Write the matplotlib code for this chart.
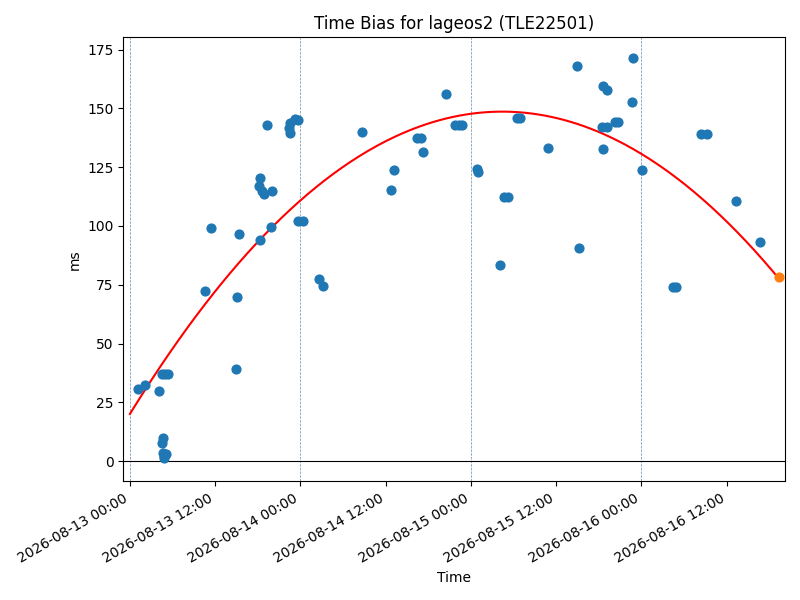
import numpy as np
import pandas as pd
import matplotlib
matplotlib.use("Agg")
import matplotlib.pyplot as plt
import matplotlib.dates as mdates

start = pd.Timestamp("2026-08-13 00:00")

# hours since 2026-08-13 00:00
obs_hours = [1.17, 2.12, 4.14, 4.49, 4.91, 5.34, 4.60, 4.46, 4.70, 5.05, 4.84, 4.77,
             10.53, 11.48, 14.91, 15.05, 15.33, 18.30, 19.85, 18.35, 18.18, 18.58,
             18.82, 19.99, 19.29, 22.59, 23.30, 22.35, 22.59, 23.62, 23.69, 24.40,
             26.58, 27.19, 32.70, 37.17, 36.79, 40.42, 40.99, 41.31, 44.51, 45.79,
             46.25, 46.70, 48.79, 48.93, 52.63, 53.27, 52.14, 54.47, 54.96, 58.82,
             62.91, 63.19, 66.58, 67.20, 70.82, 70.68, 66.47, 67.10, 68.23, 68.73,
             66.58, 72.09, 80.38, 81.23, 76.50, 76.80, 85.36, 88.71]
obs_ms = [30.8, 32.6, 29.8, 36.9, 36.9, 36.9, 10.0, 7.8, 3.4, 3.0, 1.3, 2.2,
          72.3, 99.1, 39.0, 69.8, 96.5, 94.1, 99.4, 120.5, 117.0, 114.8,
          113.4, 114.8, 142.8, 143.9, 145.3, 141.8, 139.7, 145.0, 102.1, 102.1,
          77.4, 74.4, 139.8, 124.0, 115.3, 137.2, 137.2, 131.4, 155.9, 143.1,
          143.1, 143.1, 124.4, 123.0, 112.2, 112.2, 83.5, 145.8, 145.8, 133.3,
          168.2, 90.5, 159.6, 157.9, 171.6, 152.5, 142.2, 142.2, 144.4, 144.4,
          132.6, 123.6, 139.3, 139.3, 74.0, 74.0, 110.5, 93.2]

# quadratic fit: ms = peak + curv * (h - h_peak)^2
fit_peak_hour = 52.4
fit_peak_ms = 148.6
fit_curv = -0.0468
fit_start_hour = 0.0
fit_end_hour = 91.29

pred_hour = 91.29
pred_ms = 78.3

midnights = ["2026-08-13", "2026-08-14", "2026-08-15", "2026-08-16"]

obs_t = start + pd.to_timedelta(obs_hours, unit="h")
fh = np.linspace(fit_start_hour, fit_end_hour, 300)
fit_t = start + pd.to_timedelta(fh, unit="h")
fit_v = fit_peak_ms + fit_curv * (fh - fit_peak_hour) ** 2
pred_t = start + pd.to_timedelta(pred_hour, unit="h")

fig, ax = plt.subplots(figsize=(8, 6), dpi=100)
for d in midnights:
    ax.axvline(pd.Timestamp(d), color="#6a8aa8", linestyle="--", linewidth=0.5)
ax.axhline(0, color="black", linewidth=0.8)
ax.scatter(obs_t, obs_ms, s=40, color="C0", zorder=3)
ax.plot(fit_t, fit_v, color="red", zorder=2)
ax.scatter([pred_t], [pred_ms], s=40, color="C1", zorder=4)

ax.margins(x=0.01)
ax.xaxis.set_major_locator(mdates.HourLocator(byhour=[0, 12]))
ax.xaxis.set_major_formatter(mdates.DateFormatter("%Y-%m-%d %H:%M"))
ax.set_title("Time Bias for lageos2 (TLE22501)")
ax.set_xlabel("Time")
ax.set_ylabel("ms")
fig.autofmt_xdate()
fig.tight_layout()
fig.savefig("out.png")
